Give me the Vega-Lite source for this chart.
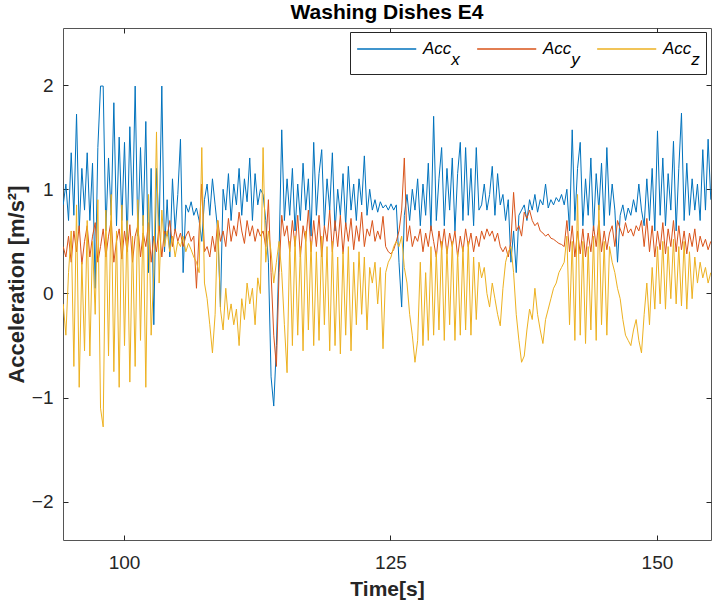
{
  "$schema": "https://vega.github.io/schema/vega-lite/v6.json",
  "width": 648,
  "height": 512,
  "autosize": {"type": "none"},
  "padding": {"left": 63, "top": 28, "right": 3, "bottom": 63},
  "title": {"text": "Washing Dishes E4", "font": "Liberation Sans", "fontSize": 21, "fontWeight": "bold", "color": "#000000", "offset": 5},
  "config": {
    "view": {"stroke": "#555555", "strokeWidth": 1},
    "style": {"guide-label": {"lineHeight": 11}},
    "axis": {
      "grid": false,
      "domain": false,
      "tickColor": "#262626",
      "tickWidth": 1,
      "tickSize": -5,
      "labelFont": "Liberation Sans",
      "labelFontSize": 19,
      "labelColor": "#262626",
      "titleFont": "Liberation Sans",
      "titleFontSize": 21,
      "titleFontWeight": "bold",
      "titleColor": "#262626"
    }
  },
  "data": {"values": [
    {"t":94.30,"Accx":0.85,"Accy":0.45,"Accz":-0.10},
    {"t":94.55,"Accx":1.05,"Accy":0.35,"Accz":-0.40},
    {"t":94.80,"Accx":0.70,"Accy":0.55,"Accz":0.20},
    {"t":95.05,"Accx":1.35,"Accy":0.30,"Accz":0.60},
    {"t":95.30,"Accx":0.75,"Accy":0.60,"Accz":-0.70},
    {"t":95.55,"Accx":1.72,"Accy":0.40,"Accz":0.85},
    {"t":95.80,"Accx":0.60,"Accy":0.65,"Accz":-0.90},
    {"t":96.05,"Accx":1.20,"Accy":0.28,"Accz":0.30},
    {"t":96.30,"Accx":0.80,"Accy":0.50,"Accz":-0.55},
    {"t":96.55,"Accx":1.35,"Accy":0.65,"Accz":0.70},
    {"t":96.80,"Accx":0.70,"Accy":0.35,"Accz":-0.60},
    {"t":97.05,"Accx":1.25,"Accy":0.55,"Accz":0.50},
    {"t":97.30,"Accx":0.05,"Accy":0.68,"Accz":-0.20},
    {"t":97.55,"Accx":1.40,"Accy":0.30,"Accz":0.90},
    {"t":97.80,"Accx":1.99,"Accy":0.45,"Accz":-1.10},
    {"t":98.05,"Accx":1.99,"Accy":0.62,"Accz":-1.28},
    {"t":98.30,"Accx":0.60,"Accy":0.35,"Accz":0.80},
    {"t":98.55,"Accx":1.30,"Accy":0.55,"Accz":-0.60},
    {"t":98.80,"Accx":0.75,"Accy":0.70,"Accz":0.95},
    {"t":99.05,"Accx":1.83,"Accy":0.30,"Accz":-0.75},
    {"t":99.30,"Accx":0.65,"Accy":0.50,"Accz":0.60},
    {"t":99.55,"Accx":1.50,"Accy":0.62,"Accz":-0.90},
    {"t":99.80,"Accx":0.70,"Accy":0.33,"Accz":0.85},
    {"t":100.05,"Accx":1.45,"Accy":0.60,"Accz":-0.50},
    {"t":100.30,"Accx":0.50,"Accy":0.40,"Accz":0.70},
    {"t":100.55,"Accx":1.60,"Accy":0.66,"Accz":-0.85},
    {"t":100.80,"Accx":0.75,"Accy":0.30,"Accz":0.55},
    {"t":101.05,"Accx":1.99,"Accy":0.55,"Accz":-0.70},
    {"t":101.30,"Accx":0.55,"Accy":0.65,"Accz":0.90},
    {"t":101.55,"Accx":1.40,"Accy":0.35,"Accz":-0.45},
    {"t":101.80,"Accx":0.65,"Accy":0.58,"Accz":0.75},
    {"t":102.05,"Accx":1.65,"Accy":0.45,"Accz":-0.90},
    {"t":102.30,"Accx":0.20,"Accy":0.68,"Accz":0.95},
    {"t":102.55,"Accx":1.20,"Accy":0.30,"Accz":-0.40},
    {"t":102.80,"Accx":-0.30,"Accy":0.55,"Accz":0.20},
    {"t":103.05,"Accx":1.20,"Accy":0.40,"Accz":1.55},
    {"t":103.30,"Accx":0.60,"Accy":0.65,"Accz":0.10},
    {"t":103.55,"Accx":1.99,"Accy":0.35,"Accz":0.80},
    {"t":103.80,"Accx":0.40,"Accy":0.60,"Accz":0.45},
    {"t":104.05,"Accx":0.90,"Accy":0.55,"Accz":0.60},
    {"t":104.30,"Accx":0.35,"Accy":0.70,"Accz":0.40},
    {"t":104.55,"Accx":1.10,"Accy":0.45,"Accz":0.55},
    {"t":104.80,"Accx":0.60,"Accy":0.62,"Accz":0.35},
    {"t":105.05,"Accx":0.95,"Accy":0.50,"Accz":0.50},
    {"t":105.30,"Accx":1.48,"Accy":0.58,"Accz":0.45},
    {"t":105.55,"Accx":0.20,"Accy":0.45,"Accz":0.55},
    {"t":105.80,"Accx":0.85,"Accy":0.55,"Accz":0.40},
    {"t":106.05,"Accx":0.78,"Accy":0.60,"Accz":0.48},
    {"t":106.30,"Accx":0.88,"Accy":0.50,"Accz":0.42},
    {"t":106.55,"Accx":0.75,"Accy":0.55,"Accz":0.35},
    {"t":106.80,"Accx":0.82,"Accy":0.05,"Accz":0.30},
    {"t":107.05,"Accx":0.70,"Accy":0.60,"Accz":0.20},
    {"t":107.30,"Accx":0.50,"Accy":1.05,"Accz":1.40},
    {"t":107.55,"Accx":0.90,"Accy":0.40,"Accz":0.10},
    {"t":107.80,"Accx":1.05,"Accy":0.45,"Accz":-0.05},
    {"t":108.05,"Accx":0.75,"Accy":0.35,"Accz":-0.30},
    {"t":108.30,"Accx":1.10,"Accy":0.55,"Accz":-0.57},
    {"t":108.55,"Accx":0.85,"Accy":0.40,"Accz":-0.20},
    {"t":108.80,"Accx":0.60,"Accy":0.70,"Accz":0.70},
    {"t":109.05,"Accx":-0.13,"Accy":0.50,"Accz":-0.15},
    {"t":109.30,"Accx":1.00,"Accy":0.60,"Accz":-0.35},
    {"t":109.55,"Accx":0.80,"Accy":0.45,"Accz":0.05},
    {"t":109.80,"Accx":1.15,"Accy":0.72,"Accz":-0.25},
    {"t":110.05,"Accx":0.70,"Accy":0.50,"Accz":-0.10},
    {"t":110.30,"Accx":1.05,"Accy":0.65,"Accz":-0.30},
    {"t":110.55,"Accx":0.85,"Accy":0.55,"Accz":-0.15},
    {"t":110.80,"Accx":1.20,"Accy":0.78,"Accz":-0.50},
    {"t":111.05,"Accx":0.75,"Accy":0.60,"Accz":-0.05},
    {"t":111.30,"Accx":1.10,"Accy":0.48,"Accz":-0.25},
    {"t":111.55,"Accx":0.88,"Accy":0.70,"Accz":0.10},
    {"t":111.80,"Accx":1.30,"Accy":0.55,"Accz":-0.10},
    {"t":112.05,"Accx":0.70,"Accy":0.65,"Accz":0.05},
    {"t":112.30,"Accx":1.15,"Accy":0.50,"Accz":-0.30},
    {"t":112.55,"Accx":0.85,"Accy":0.62,"Accz":0.15},
    {"t":112.80,"Accx":1.00,"Accy":0.55,"Accz":0.00},
    {"t":113.05,"Accx":0.95,"Accy":0.60,"Accz":1.40},
    {"t":113.30,"Accx":0.70,"Accy":0.45,"Accz":0.30},
    {"t":113.55,"Accx":0.30,"Accy":0.90,"Accz":0.60},
    {"t":113.80,"Accx":-0.80,"Accy":0.20,"Accz":0.40},
    {"t":114.05,"Accx":-1.08,"Accy":-0.40,"Accz":0.10},
    {"t":114.30,"Accx":-0.50,"Accy":-0.70,"Accz":0.30},
    {"t":114.55,"Accx":0.40,"Accy":0.20,"Accz":0.50},
    {"t":114.80,"Accx":1.57,"Accy":0.75,"Accz":0.20},
    {"t":115.05,"Accx":0.70,"Accy":0.55,"Accz":-0.30},
    {"t":115.30,"Accx":1.10,"Accy":0.65,"Accz":-0.76},
    {"t":115.55,"Accx":0.75,"Accy":0.40,"Accz":0.50},
    {"t":115.80,"Accx":1.20,"Accy":0.70,"Accz":-0.50},
    {"t":116.05,"Accx":0.60,"Accy":0.45,"Accz":0.55},
    {"t":116.30,"Accx":1.05,"Accy":0.75,"Accz":-0.40},
    {"t":116.55,"Accx":0.70,"Accy":0.35,"Accz":0.45},
    {"t":116.80,"Accx":1.25,"Accy":0.65,"Accz":-0.55},
    {"t":117.05,"Accx":0.80,"Accy":0.50,"Accz":0.60},
    {"t":117.30,"Accx":1.10,"Accy":0.80,"Accz":-0.35},
    {"t":117.55,"Accx":0.55,"Accy":0.40,"Accz":0.50},
    {"t":117.80,"Accx":1.45,"Accy":0.70,"Accz":-0.50},
    {"t":118.05,"Accx":0.75,"Accy":0.45,"Accz":0.40},
    {"t":118.30,"Accx":1.15,"Accy":0.75,"Accz":-0.45},
    {"t":118.55,"Accx":1.38,"Accy":0.35,"Accz":0.55},
    {"t":118.80,"Accx":0.65,"Accy":0.65,"Accz":-0.30},
    {"t":119.05,"Accx":1.10,"Accy":0.50,"Accz":0.45},
    {"t":119.30,"Accx":0.80,"Accy":0.80,"Accz":-0.55},
    {"t":119.55,"Accx":1.35,"Accy":0.40,"Accz":0.50},
    {"t":119.80,"Accx":0.60,"Accy":0.70,"Accz":-0.50},
    {"t":120.05,"Accx":1.00,"Accy":0.45,"Accz":0.35},
    {"t":120.30,"Accx":0.75,"Accy":0.75,"Accz":-0.58},
    {"t":120.55,"Accx":1.15,"Accy":0.38,"Accz":0.40},
    {"t":120.80,"Accx":0.65,"Accy":0.68,"Accz":-0.40},
    {"t":121.05,"Accx":1.22,"Accy":0.50,"Accz":0.45},
    {"t":121.30,"Accx":0.80,"Accy":0.72,"Accz":-0.55},
    {"t":121.55,"Accx":1.05,"Accy":0.42,"Accz":0.30},
    {"t":121.80,"Accx":0.70,"Accy":0.65,"Accz":-0.30},
    {"t":122.05,"Accx":1.10,"Accy":0.50,"Accz":0.40},
    {"t":122.30,"Accx":0.85,"Accy":0.78,"Accz":-0.20},
    {"t":122.55,"Accx":1.32,"Accy":0.45,"Accz":0.35},
    {"t":122.80,"Accx":0.75,"Accy":0.62,"Accz":-0.35},
    {"t":123.05,"Accx":1.00,"Accy":0.55,"Accz":0.25},
    {"t":123.30,"Accx":0.80,"Accy":0.70,"Accz":0.10},
    {"t":123.55,"Accx":0.90,"Accy":0.50,"Accz":0.30},
    {"t":123.80,"Accx":0.78,"Accy":0.60,"Accz":-0.10},
    {"t":124.05,"Accx":0.88,"Accy":0.52,"Accz":0.25},
    {"t":124.30,"Accx":0.82,"Accy":0.74,"Accz":-0.53},
    {"t":124.55,"Accx":0.85,"Accy":0.45,"Accz":0.20},
    {"t":124.80,"Accx":0.80,"Accy":0.40,"Accz":0.30},
    {"t":125.05,"Accx":0.86,"Accy":0.38,"Accz":0.35},
    {"t":125.30,"Accx":0.80,"Accy":0.42,"Accz":0.45},
    {"t":125.55,"Accx":0.85,"Accy":0.50,"Accz":0.50},
    {"t":125.80,"Accx":0.30,"Accy":0.60,"Accz":0.45},
    {"t":126.05,"Accx":-0.13,"Accy":0.80,"Accz":0.55},
    {"t":126.30,"Accx":0.75,"Accy":1.30,"Accz":0.25},
    {"t":126.55,"Accx":0.95,"Accy":0.50,"Accz":0.10},
    {"t":126.80,"Accx":0.70,"Accy":0.65,"Accz":-0.20},
    {"t":127.05,"Accx":1.00,"Accy":0.45,"Accz":-0.40},
    {"t":127.30,"Accx":0.80,"Accy":0.55,"Accz":-0.66},
    {"t":127.55,"Accx":1.10,"Accy":0.50,"Accz":-0.45},
    {"t":127.80,"Accx":0.65,"Accy":0.62,"Accz":0.30},
    {"t":128.05,"Accx":1.05,"Accy":0.40,"Accz":-0.50},
    {"t":128.30,"Accx":0.75,"Accy":0.58,"Accz":0.20},
    {"t":128.55,"Accx":1.25,"Accy":0.45,"Accz":-0.45},
    {"t":128.80,"Accx":0.60,"Accy":0.65,"Accz":0.45},
    {"t":129.05,"Accx":1.70,"Accy":0.50,"Accz":-0.40},
    {"t":129.30,"Accx":0.70,"Accy":0.35,"Accz":0.40},
    {"t":129.55,"Accx":1.10,"Accy":0.60,"Accz":-0.35},
    {"t":129.80,"Accx":1.40,"Accy":0.42,"Accz":0.50},
    {"t":130.05,"Accx":0.65,"Accy":0.62,"Accz":-0.45},
    {"t":130.30,"Accx":1.20,"Accy":0.38,"Accz":0.45},
    {"t":130.55,"Accx":0.80,"Accy":0.58,"Accz":-0.30},
    {"t":130.80,"Accx":1.30,"Accy":0.45,"Accz":0.50},
    {"t":131.05,"Accx":0.60,"Accy":0.60,"Accz":-0.45},
    {"t":131.30,"Accx":1.15,"Accy":0.35,"Accz":0.40},
    {"t":131.55,"Accx":1.45,"Accy":0.55,"Accz":-0.40},
    {"t":131.80,"Accx":0.70,"Accy":0.40,"Accz":0.45},
    {"t":132.05,"Accx":1.40,"Accy":0.62,"Accz":-0.35},
    {"t":132.30,"Accx":0.75,"Accy":0.45,"Accz":0.50},
    {"t":132.55,"Accx":1.20,"Accy":0.58,"Accz":-0.40},
    {"t":132.80,"Accx":0.65,"Accy":0.40,"Accz":0.35},
    {"t":133.05,"Accx":1.40,"Accy":0.55,"Accz":-0.25},
    {"t":133.30,"Accx":0.80,"Accy":0.45,"Accz":0.30},
    {"t":133.55,"Accx":0.85,"Accy":0.60,"Accz":0.15},
    {"t":133.80,"Accx":1.05,"Accy":0.52,"Accz":0.25},
    {"t":134.05,"Accx":0.80,"Accy":0.62,"Accz":0.00},
    {"t":134.30,"Accx":0.95,"Accy":0.55,"Accz":-0.13},
    {"t":134.55,"Accx":1.22,"Accy":0.60,"Accz":0.10},
    {"t":134.80,"Accx":0.75,"Accy":0.50,"Accz":-0.05},
    {"t":135.05,"Accx":1.15,"Accy":0.58,"Accz":-0.20},
    {"t":135.30,"Accx":0.85,"Accy":0.45,"Accz":-0.31},
    {"t":135.55,"Accx":0.95,"Accy":0.40,"Accz":0.05},
    {"t":135.80,"Accx":0.70,"Accy":0.45,"Accz":0.30},
    {"t":136.05,"Accx":0.90,"Accy":0.35,"Accz":0.40},
    {"t":136.30,"Accx":0.30,"Accy":0.50,"Accz":0.45},
    {"t":136.55,"Accx":0.60,"Accy":0.97,"Accz":0.20},
    {"t":136.80,"Accx":0.20,"Accy":0.60,"Accz":-0.20},
    {"t":137.05,"Accx":0.75,"Accy":0.65,"Accz":-0.45},
    {"t":137.30,"Accx":0.80,"Accy":0.55,"Accz":-0.66},
    {"t":137.55,"Accx":0.85,"Accy":0.78,"Accz":-0.60},
    {"t":137.80,"Accx":0.70,"Accy":0.72,"Accz":-0.35},
    {"t":138.05,"Accx":0.90,"Accy":0.80,"Accz":-0.15},
    {"t":138.30,"Accx":0.80,"Accy":0.70,"Accz":-0.25},
    {"t":138.55,"Accx":0.95,"Accy":0.65,"Accz":0.05},
    {"t":138.80,"Accx":0.78,"Accy":0.68,"Accz":-0.20},
    {"t":139.05,"Accx":0.90,"Accy":0.60,"Accz":-0.35},
    {"t":139.30,"Accx":0.85,"Accy":0.58,"Accz":-0.48},
    {"t":139.55,"Accx":1.05,"Accy":0.55,"Accz":-0.25},
    {"t":139.80,"Accx":0.82,"Accy":0.57,"Accz":-0.15},
    {"t":140.05,"Accx":0.90,"Accy":0.53,"Accz":-0.05},
    {"t":140.30,"Accx":0.85,"Accy":0.52,"Accz":0.05},
    {"t":140.55,"Accx":0.92,"Accy":0.50,"Accz":0.10},
    {"t":140.80,"Accx":0.88,"Accy":0.48,"Accz":0.20},
    {"t":141.05,"Accx":0.95,"Accy":0.47,"Accz":0.25},
    {"t":141.30,"Accx":0.85,"Accy":0.45,"Accz":0.30},
    {"t":141.55,"Accx":1.00,"Accy":0.70,"Accz":0.55},
    {"t":141.80,"Accx":0.60,"Accy":0.40,"Accz":-0.30},
    {"t":142.05,"Accx":1.57,"Accy":0.65,"Accz":0.50},
    {"t":142.30,"Accx":0.70,"Accy":0.35,"Accz":-0.45},
    {"t":142.55,"Accx":1.20,"Accy":0.60,"Accz":0.95},
    {"t":142.80,"Accx":1.45,"Accy":0.38,"Accz":-0.40},
    {"t":143.05,"Accx":0.65,"Accy":0.62,"Accz":0.50},
    {"t":143.30,"Accx":1.10,"Accy":0.35,"Accz":-0.48},
    {"t":143.55,"Accx":0.75,"Accy":0.58,"Accz":0.45},
    {"t":143.80,"Accx":1.30,"Accy":0.40,"Accz":-0.35},
    {"t":144.05,"Accx":0.60,"Accy":0.65,"Accz":0.55},
    {"t":144.30,"Accx":1.15,"Accy":0.45,"Accz":-0.45},
    {"t":144.55,"Accx":0.80,"Accy":0.70,"Accz":0.85},
    {"t":144.80,"Accx":1.25,"Accy":0.40,"Accz":-0.30},
    {"t":145.05,"Accx":0.65,"Accy":0.60,"Accz":0.50},
    {"t":145.30,"Accx":1.40,"Accy":0.42,"Accz":-0.40},
    {"t":145.55,"Accx":0.75,"Accy":0.58,"Accz":0.45},
    {"t":145.80,"Accx":1.05,"Accy":0.65,"Accz":0.30},
    {"t":146.05,"Accx":0.80,"Accy":0.45,"Accz":0.20},
    {"t":146.30,"Accx":0.30,"Accy":0.70,"Accz":0.05},
    {"t":146.55,"Accx":0.75,"Accy":0.62,"Accz":-0.05},
    {"t":146.80,"Accx":0.85,"Accy":0.55,"Accz":-0.25},
    {"t":147.05,"Accx":0.70,"Accy":0.68,"Accz":-0.40},
    {"t":147.30,"Accx":0.82,"Accy":0.58,"Accz":-0.45},
    {"t":147.55,"Accx":0.75,"Accy":0.62,"Accz":-0.50},
    {"t":147.80,"Accx":0.90,"Accy":0.55,"Accz":-0.35},
    {"t":148.05,"Accx":0.78,"Accy":0.65,"Accz":-0.25},
    {"t":148.30,"Accx":1.05,"Accy":0.60,"Accz":-0.45},
    {"t":148.55,"Accx":0.80,"Accy":0.70,"Accz":-0.57},
    {"t":148.80,"Accx":0.65,"Accy":0.45,"Accz":-0.20},
    {"t":149.05,"Accx":1.10,"Accy":0.72,"Accz":0.10},
    {"t":149.30,"Accx":0.70,"Accy":0.40,"Accz":-0.30},
    {"t":149.55,"Accx":1.20,"Accy":0.65,"Accz":0.25},
    {"t":149.80,"Accx":0.60,"Accy":0.35,"Accz":-0.15},
    {"t":150.05,"Accx":1.56,"Accy":0.60,"Accz":0.45},
    {"t":150.30,"Accx":0.75,"Accy":0.42,"Accz":-0.10},
    {"t":150.55,"Accx":1.30,"Accy":0.68,"Accz":0.50},
    {"t":150.80,"Accx":0.65,"Accy":0.38,"Accz":-0.15},
    {"t":151.05,"Accx":1.15,"Accy":0.62,"Accz":0.45},
    {"t":151.30,"Accx":0.80,"Accy":0.45,"Accz":-0.05},
    {"t":151.55,"Accx":1.46,"Accy":0.70,"Accz":0.52},
    {"t":151.80,"Accx":0.60,"Accy":0.40,"Accz":-0.10},
    {"t":152.05,"Accx":1.20,"Accy":0.65,"Accz":0.45},
    {"t":152.30,"Accx":1.73,"Accy":0.42,"Accz":-0.12},
    {"t":152.55,"Accx":0.70,"Accy":0.60,"Accz":0.50},
    {"t":152.80,"Accx":1.25,"Accy":0.38,"Accz":-0.15},
    {"t":153.05,"Accx":0.75,"Accy":0.58,"Accz":0.40},
    {"t":153.30,"Accx":1.10,"Accy":0.45,"Accz":-0.05},
    {"t":153.55,"Accx":0.80,"Accy":0.62,"Accz":0.35},
    {"t":153.80,"Accx":1.05,"Accy":0.40,"Accz":0.10},
    {"t":154.05,"Accx":0.70,"Accy":0.55,"Accz":0.30},
    {"t":154.30,"Accx":1.38,"Accy":0.45,"Accz":0.15},
    {"t":154.55,"Accx":0.80,"Accy":0.52,"Accz":0.25},
    {"t":154.80,"Accx":1.48,"Accy":0.42,"Accz":0.10},
    {"t":155.05,"Accx":0.90,"Accy":0.50,"Accz":0.20}
  ]},
  "transform": [{"fold": ["Accx", "Accy", "Accz"], "as": ["series", "value"]}],
  "layer": [
    {
      "mark": {"type": "line", "strokeWidth": 1, "clip": true},
      "encoding": {
        "x": {"field": "t", "type": "quantitative",
              "scale": {"domain": [94.28, 155.07], "nice": false, "zero": false},
              "axis": {"values": [100, 125, 150], "title": "Time[s]", "labelPadding": 18.5, "titlePadding": 6}},
        "y": {"field": "value", "type": "quantitative",
              "scale": {"domain": [-2.365, 2.547], "nice": false, "zero": false},
              "axis": {"values": [-2, -1, 0, 1, 2], "title": "Acceleration [m/s²]", "titleFontSize": 22, "labelPadding": 15, "titlePadding": 3}},
        "color": {"field": "series", "type": "nominal",
                  "scale": {"domain": ["Accx", "Accy", "Accz"], "range": ["#0072BD", "#D95319", "#EDB120"]},
                  "legend": {
                    "orient": "none", "legendX": 287, "legendY": 4,
                    "direction": "horizontal", "title": null,
                    "fillColor": "#ffffff", "strokeColor": "#262626", "padding": 6,
                    "symbolType": "M-1,0H5", "symbolSize": 388, "symbolStrokeWidth": 1.5,
                    "labelFont": "Liberation Sans", "labelFontSize": 17, "labelFontStyle": "italic",
                    "labelColor": "#000000", "labelOffset": 45, "columnPadding": 14, "labelLimit": 200,
                    "labelExpr": "['Acc', '\u200b\u00a0\u00a0\u00a0\u00a0\u00a0\u00a0' + substring(datum.label, 3)]"
                  }}
      }
    },
    {
      "mark": {"type": "point", "opacity": 0},
      "encoding": {
        "x": {"field": "t", "type": "quantitative", "axis": {"orient": "top", "values": [100, 125, 150], "labels": false, "title": null}},
        "y": {"field": "value", "type": "quantitative", "axis": {"orient": "right", "values": [-2, -1, 0, 1, 2], "labels": false, "title": null}}
      }
    }
  ],
  "resolve": {"axis": {"x": "independent", "y": "independent"}}
}
